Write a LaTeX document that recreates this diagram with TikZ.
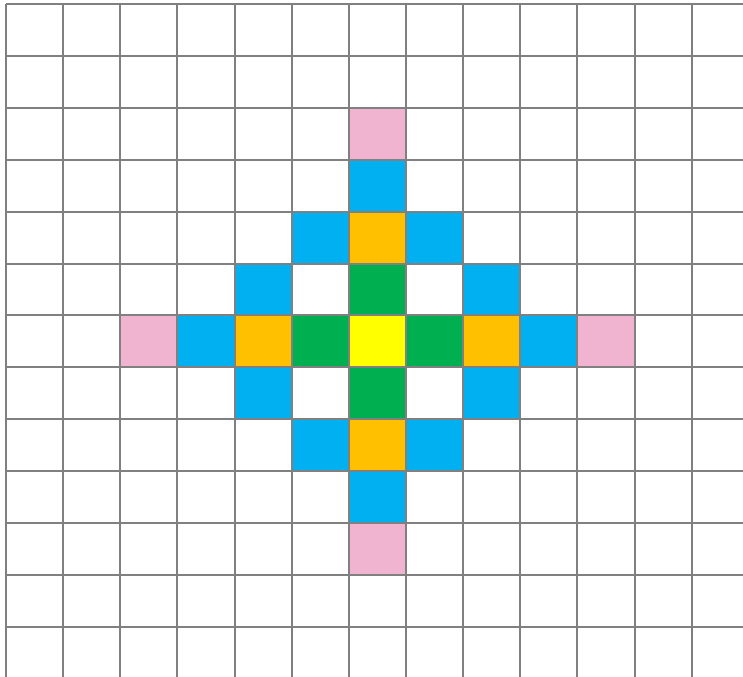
\documentclass[tikz,border=0pt]{standalone}
\usepackage{tikz}

\definecolor{gridgray}{RGB}{128,128,128}
\definecolor{cellyellow}{RGB}{255,255,0}
\definecolor{cellgreen}{RGB}{0,176,80}
\definecolor{cellorange}{RGB}{255,192,0}
\definecolor{cellblue}{RGB}{0,176,240}
\definecolor{cellpink}{RGB}{240,180,208}

\begin{document}
\begin{tikzpicture}[
    x=0.03cm,
    y=-0.03cm,
    gridline/.style={
        draw=gridgray,
        line width=0.06cm
    },
    cell/.style={
        fill=#1
    }
]

\useasboundingbox (0,0) rectangle (743,677);

\begin{scope}[xshift=0.18cm, yshift=-0.12cm, x=1.7142cm, y=-1.557cm]

% coloured cells (column/row/colour)
\foreach \c/\r/\col in {
    6/6/cellyellow,
    5/6/cellgreen, 7/6/cellgreen, 6/5/cellgreen, 6/7/cellgreen,
    4/6/cellorange, 8/6/cellorange, 6/4/cellorange, 6/8/cellorange,
    3/6/cellblue, 9/6/cellblue, 6/3/cellblue, 6/9/cellblue,
    5/4/cellblue, 7/4/cellblue, 4/5/cellblue, 8/5/cellblue,
    4/7/cellblue, 8/7/cellblue, 5/8/cellblue, 7/8/cellblue,
    2/6/cellpink, 10/6/cellpink, 6/2/cellpink, 6/10/cellpink}
    \fill[cell=\col] (\c,\r) rectangle ++(1,1);

% grid
\foreach \i in {0,...,12}
    \draw[gridline] (\i,0) -- (\i,13.2);
\foreach \j in {0,...,12}
    \draw[gridline] (0,\j) -- (13.2,\j);

\end{scope}

\end{tikzpicture}
\end{document}
